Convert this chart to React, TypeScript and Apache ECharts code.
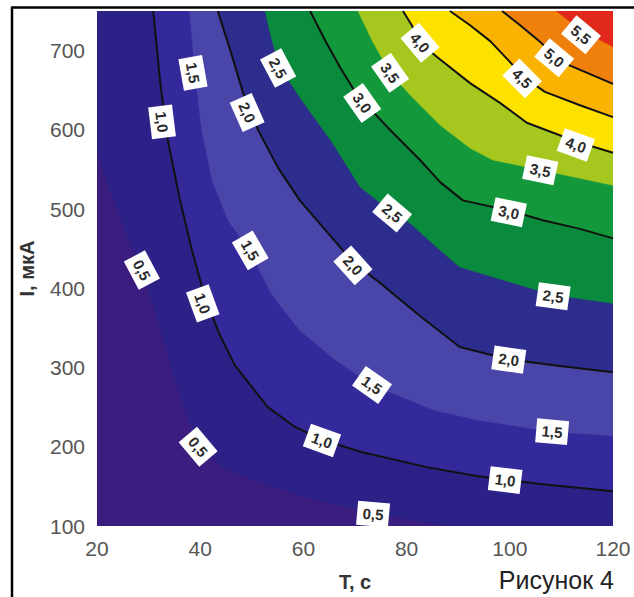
import React, { useEffect, useRef } from "react";
import * as echarts from "echarts";

// Axis extents / ticks
const xTicksMin = 20;
const xTicksMax = 120;
const yTicksMin = 100;
const yTicksMax = 750;

// Contour levels and the colour of the band above each level
const baseBandColor = "#3b1d80"; // < 0.5
const levels = [0.5, 1.0, 1.5, 2.0, 2.5, 3.0, 3.5, 4.0, 4.5, 5.0, 5.5];
const bandColors = [
  "#2b2187", // 0.5-1.0
  "#34299a", // 1.0-1.5
  "#4a46a9", // 1.5-2.0
  "#2c2d8c", // 2.0-2.5
  "#0a8a3c", // 2.5-3.0
  "#13993b", // 3.0-3.5
  "#a6c81e", // 3.5-4.0
  "#fde200", // 4.0-4.5
  "#f9b300", // 4.5-5.0
  "#ef800c", // 5.0-5.5
  "#e1281c", // > 5.5
];
const hasBlackLine = [false, true, false, true, false, true, false, true, true, true, false];

// Contour lines [T, I]
const c05 = [[20, 575], [22.5, 524], [25.4, 474], [28.7, 423], [31.8, 360], [34.5, 297], [37.1, 246], [39.6, 202], [44.8, 173], [52, 154], [61.3, 135], [71.4, 120], [80.7, 108], [88.4, 100]];
const c10 = [[30.9, 750], [32.2, 663], [33.6, 591], [36.1, 511], [38.4, 448], [40.9, 389], [43.8, 341], [46.7, 303], [49.7, 278], [53.1, 250], [58.4, 225], [63.6, 209], [71.4, 193], [84.1, 174], [93.6, 163], [105.9, 153], [120, 144]];
const c15 = [[38.0, 750], [39.0, 673], [40.3, 600], [42.3, 537], [45.4, 486], [49.7, 446], [53.9, 392], [59.3, 347], [66.1, 310], [73.3, 278], [85.5, 246], [93.6, 234], [108.2, 219], [120, 214]];
const c20 = [[43.4, 750], [45.8, 701], [48.3, 647], [51.2, 600], [55.1, 552], [59.3, 511], [64.6, 471], [69.6, 433], [74.8, 407], [82.6, 365], [90.3, 326], [100, 310], [109.7, 302], [120, 294]];
const c25 = [[52.6, 750], [53.9, 713], [55.5, 679], [59.3, 641], [65.7, 583], [71.0, 528], [77.4, 495], [80.7, 482], [86.5, 448], [90.3, 427], [100, 408], [108.4, 392], [120, 381]];
const c30 = [[61.3, 750], [64.2, 713], [67.1, 679], [70.4, 644], [76.2, 604], [82.6, 562], [86.5, 534], [90.9, 511], [100, 498], [106.4, 486], [113.6, 475], [120, 463]];
const c35 = [[70.6, 750], [73.3, 713], [76.8, 672], [80.7, 644], [86.5, 606], [92.3, 577], [96.7, 562], [106.4, 549], [113.6, 539], [120, 530]];
const c40 = [[79.3, 750], [81.0, 732], [82.6, 710], [85.9, 692], [92.3, 659], [98.1, 634], [103.3, 609], [113.0, 585], [120, 571]];
const c45 = [[88.4, 750], [92.3, 732], [96.2, 712], [99.7, 688], [102.6, 667], [106.8, 648], [113.6, 631], [120, 616]];
const c50 = [[98.5, 750], [102.0, 732], [105.9, 711], [108.8, 692], [111.7, 681], [120, 658]];
const c55 = [[109.0, 750], [112.6, 732], [115.5, 720], [120, 705]];
const contours = [c05, c10, c15, c20, c25, c30, c35, c40, c45, c50, c55];

// Inline contour labels
const labelT = [38.6, 32.6, 55.1, 49.1, 71.4, 76.8, 82.6, 102.4, 108.6, 113.8, 112.8, 105.9, 99.8, 108.4, 99.8, 77.2, 69.6, 49.7, 28.7, 40.5, 73.3, 39.6, 63.6, 108.2, 99.1, 73.5];
const labelI = [672, 610, 678, 622, 634, 672, 710, 665, 691, 720, 581, 549, 496, 390, 310, 495, 429, 448, 423, 381, 278, 200, 208, 219, 158, 115];
const labelText = ["1,5", "1,0", "2,5", "2,0", "3,0", "3,5", "4,0", "4,5", "5,0", "5,5", "4,0", "3,5", "3,0", "2,5", "2,0", "2,5", "2,0", "1,5", "0,5", "1,0", "1,5", "0,5", "1,0", "1,5", "1,0", "0,5"];
const labelAngle = [80, 83, 62, 66, 55, 55, 50, 45, 40, 40, 20, 12, 12, 8, 8, 40, 48, 60, 62, 70, 35, 50, 20, 5, 7, 5];

function closeRegion(pts: number[][]): number[][] {
  const out = pts.slice();
  const start = pts[0];
  const end = pts[pts.length - 1];
  if (end[1] <= yTicksMin + 1e-6 && end[0] < xTicksMax) out.push([xTicksMax, yTicksMin]);
  out.push([xTicksMax, yTicksMax]);
  if (start[0] <= xTicksMin + 1e-6 && start[1] < yTicksMax) out.push([xTicksMin, yTicksMax]);
  return out;
}

const FONT = '"Liberation Sans", Arial, sans-serif';

export default function App() {
  const ref = useRef<HTMLDivElement>(null);
  useEffect(() => {
    if (!ref.current) return;
    const chart = echarts.init(ref.current, undefined, { renderer: "svg" });
    const lineSeries = contours
      .map((c, i) => ({ c, i }))
      .filter(({ i }) => hasBlackLine[i])
      .map(({ c, i }) => ({
        type: "line",
        name: "L" + levels[i],
        data: c,
        showSymbol: false,
        symbol: "none",
        silent: true,
        lineStyle: { color: "#111", width: 2 },
        z: 3,
      }));
    chart.setOption({
      animation: false,
      grid: {
        left: 97,
        top: 11,
        right: 21,
        bottom: 71,
        show: true,
        backgroundColor: baseBandColor,
        borderWidth: 0,
      },
      xAxis: {
        type: "value",
        min: xTicksMin,
        max: xTicksMax,
        interval: 20,
        axisLine: { show: false },
        axisTick: { show: false },
        splitLine: { show: false },
        axisLabel: { fontSize: 21, color: "#555", margin: 12, fontFamily: FONT },
        name: "T, c",
        nameLocation: "middle",
        nameGap: 46,
        nameTextStyle: { fontSize: 20, fontWeight: "bold", color: "#333", fontFamily: FONT },
      },
      yAxis: {
        type: "value",
        min: yTicksMin,
        max: yTicksMax,
        interval: 100,
        axisLine: { show: false },
        axisTick: { show: false },
        splitLine: { show: false },
        axisLabel: {
          fontSize: 21,
          color: "#555",
          margin: 12,
          fontFamily: FONT,
          formatter: (v: number) => (v % 100 === 0 ? String(v) : ""),
        },
        name: "I, мкА",
        nameLocation: "middle",
        nameRotate: 90,
        nameGap: 60,
        nameTextStyle: { fontSize: 20, fontWeight: "bold", color: "#333", fontFamily: FONT },
      },
      graphic: [
        { type: "line", shape: { x1: 12, y1: 7.5, x2: 634, y2: 7.5 }, style: { stroke: "#000", lineWidth: 2.5 } },
        { type: "line", shape: { x1: 12, y1: 6.5, x2: 12, y2: 597 }, style: { stroke: "#000", lineWidth: 2.5 } },
        {
          type: "text",
          right: 20,
          top: 567,
          style: { text: "Рисунок 4", font: `25px ${FONT}`, fill: "#222" },
        },
      ],
      series: [
        {
          type: "custom",
          coordinateSystem: "cartesian2d",
          clip: true,
          silent: true,
          data: contours.map((c, i) => [c[0][0], c[0][1], i]),
          encode: { x: 0, y: 1 },
          renderItem: (_params: any, api: any) => {
            const idx = api.value(2);
            const pts = closeRegion(contours[idx]).map((p) => api.coord(p));
            return {
              type: "polygon",
              shape: { points: pts },
              style: { fill: bandColors[idx], stroke: bandColors[idx], lineWidth: 0.6 },
            };
          },
          z: 1,
        },
        ...lineSeries,
        {
          type: "custom",
          coordinateSystem: "cartesian2d",
          clip: true,
          silent: true,
          data: labelT.map((t, i) => [t, labelI[i], i]),
          encode: { x: 0, y: 1 },
          renderItem: (_params: any, api: any) => {
            const i = api.value(2);
            const p = api.coord([api.value(0), api.value(1)]);
            return {
              type: "group",
              x: p[0],
              y: p[1],
              rotation: (-labelAngle[i] * Math.PI) / 180,
              children: [
                { type: "rect", shape: { x: -16, y: -12, width: 32, height: 24 }, style: { fill: "#fff" } },
                {
                  type: "text",
                  style: {
                    text: labelText[i],
                    x: 0,
                    y: 0,
                    align: "center",
                    verticalAlign: "middle",
                    textAlign: "center",
                    textVerticalAlign: "middle",
                    fill: "#2a2a2a",
                    font: `bold 15px ${FONT}`,
                  },
                },
              ],
            };
          },
          z: 5,
        },
      ],
    });
    return () => chart.dispose();
  }, []);
  return (
    <div
      ref={ref}
      style={{ position: "absolute", left: 0, top: 0, width: 634, height: 597, background: "#fff" }}
    />
  );
}
